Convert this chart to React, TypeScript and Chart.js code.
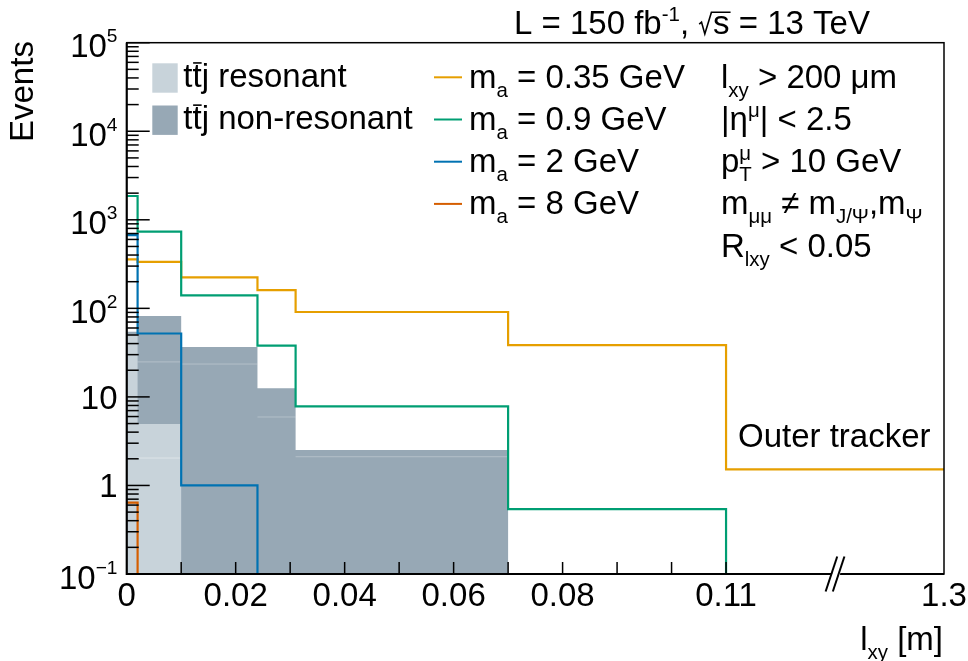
import React, { useEffect, useRef } from "react";
import { Chart, registerables } from "chart.js";

Chart.register(...registerables);

// ---------------- data ----------------
const BIN_EDGES = [0, 0.002, 0.01, 0.024, 0.031, 0.07, 0.11, 1.3];
const TTJ_RESONANT = [50, 4.94, 0, 0, 0, 0, 0];
const TTJ_NON_RESONANT = [4.5, 77, 36.6, 12.5, 2.51, 0, 0];
// inner boundaries of the stacked sub-samples (faint lines inside the fills)
const TTJ_RESONANT_PART = [0, 2.04, 0, 0, 0, 0, 0];
const TTJ_NON_RESONANT_PART = [0, 19.9, 23.5, 5.93, 2.11, 0, 0];
const MA_035 = [358, 334, 224, 161, 91, 38.5, 1.52];
const MA_09 = [1858, 734, 140, 37.9, 7.83, 0.54, 0];
const MA_2 = [673, 52, 1.0, 0, 0, 0, 0];
const MA_8 = [0.64, 0, 0, 0, 0, 0, 0];

const X_LABELED_TICKS = [0, 0.02, 0.04, 0.06, 0.08, 0.11, 1.3];
const X_TICKS = [0.01, 0.02, 0.03, 0.04, 0.05, 0.06, 0.07, 0.08, 0.09, 0.1, 0.11];
const Y_DECADES = [-1, 0, 1, 2, 3, 4, 5];

const LEGEND_FILLS = ["t#bar{t}j resonant", "t#bar{t}j non-resonant"];
const LEGEND_LINES = ["m_{a} = 0.35 GeV", "m_{a} = 0.9 GeV", "m_{a} = 2 GeV", "m_{a} = 8 GeV"];
const CUTS = [
  "l_{xy} > 200 μm",
  "|η^{μ}| < 2.5",
  "p_{T}^{μ} > 10 GeV",
  "m_{μμ} ≠ m_{J/Ψ},m_{Ψ}",
  "R_{lxy} < 0.05",
];
const HEADER = "L = 150 fb^{-1}, #sqrt{s} = 13 TeV";
const REGION = "Outer tracker";
const X_TITLE = "l_{xy} [m]";
const Y_TITLE = "Events";

// ---------------- style ----------------
const C_RES = "#c8d3da";
const C_NONRES = "#97a8b5";
const C_035 = "#e69f00";
const C_09 = "#009e73";
const C_2 = "#0072b2";
const C_8 = "#d55e00";
const FONT = '"Liberation Sans", Arial, Helvetica, sans-serif';
const FS = 33;

// broken x axis: linear up to 0.11, last bin compressed
const X_BREAK = 0.11;
const X_LAST = 1.3;
const X_AXIS_MAX = 0.15;
const Y_MIN = 0.1;
const Y_MAX = 1e5;
function toAxis(x: number) {
  return x <= X_BREAK ? x : X_BREAK + ((x - X_BREAK) * (X_AXIS_MAX - X_BREAK)) / (X_LAST - X_BREAK);
}

function stepPoints(vals: number[]) {
  const pts = vals.map((v, i) => ({ x: toAxis(BIN_EDGES[i]), y: Math.max(v, Y_MIN) }));
  pts.push({ x: toAxis(BIN_EDGES[BIN_EDGES.length - 1]), y: Math.max(vals[vals.length - 1], Y_MIN) });
  return pts;
}
function sumArr(a: number[], b: number[]) {
  return a.map((v, i) => v + b[i]);
}
function partSegments(part: number[], base: number[]) {
  const pts: any[] = [];
  part.forEach((v, i) => {
    if (v > 0) {
      const y = v + base[i];
      pts.push({ x: toAxis(BIN_EDGES[i]), y }, { x: toAxis(BIN_EDGES[i + 1]), y }, { x: toAxis(BIN_EDGES[i + 1]), y: null });
    }
  });
  return pts;
}

// ---------------- rich text (ROOT-like latex) ----------------
type Seg = { text: string; kind: "n" | "sub" | "sup"; bar?: boolean; sqrt?: boolean };
function parseRich(s: string): Seg[] {
  const segs: Seg[] = [];
  let buf = "";
  let i = 0;
  const flush = () => {
    if (buf) segs.push({ text: buf, kind: "n" });
    buf = "";
  };
  while (i < s.length) {
    const c = s[i];
    if ((c === "_" || c === "^") && s[i + 1] === "{") {
      flush();
      const end = s.indexOf("}", i + 2);
      segs.push({ text: s.slice(i + 2, end), kind: c === "_" ? "sub" : "sup" });
      i = end + 1;
    } else if (s.startsWith("#bar{", i)) {
      flush();
      const end = s.indexOf("}", i + 5);
      segs.push({ text: s.slice(i + 5, end), kind: "n", bar: true });
      i = end + 1;
    } else if (s.startsWith("#sqrt{", i)) {
      flush();
      const end = s.indexOf("}", i + 6);
      segs.push({ text: s.slice(i + 6, end), kind: "n", sqrt: true });
      i = end + 1;
    } else {
      buf += c;
      i++;
    }
  }
  flush();
  return segs;
}

function drawRich(
  ctx: CanvasRenderingContext2D,
  str: string,
  x: number,
  y: number,
  align: "left" | "right" | "center" = "left",
  size = FS,
  opts: { scale?: number; supDy?: number; subDy?: number } = {}
) {
  const scale = opts.scale ?? 0.62;
  const supDy = opts.supDy ?? -0.38 * size;
  const subDy = opts.subDy ?? 0.27 * size;
  const small = size * scale;
  const segs = parseRich(str);
  const items: any[] = [];
  let cx = 0;
  let prev: any = null;
  for (const s of segs) {
    const isScript = s.kind !== "n";
    const fs = isScript ? small : size;
    ctx.font = `${fs}px ${FONT}`;
    const w = ctx.measureText(s.text).width;
    let sx = cx;
    const rw = s.sqrt ? 0.45 * size : 0;
    if (isScript && prev && prev.kind !== s.kind) {
      sx = prev.start;
      cx = prev.start + Math.max(prev.w, w);
      prev = null;
    } else {
      cx = sx + rw + w;
      prev = isScript ? { kind: s.kind, start: sx, w } : null;
    }
    const dy = s.kind === "sub" ? subDy : s.kind === "sup" ? supDy : 0;
    items.push({ ...s, sx, rw, w, fs, dy });
  }
  const total = cx;
  const ox = align === "left" ? x : align === "right" ? x - total : x - total / 2;
  ctx.save();
  ctx.fillStyle = "#000";
  ctx.strokeStyle = "#000";
  ctx.textAlign = "left";
  ctx.textBaseline = "alphabetic";
  for (const it of items) {
    ctx.font = `${it.fs}px ${FONT}`;
    const tx = ox + it.sx + it.rw;
    ctx.fillText(it.text, tx, y + it.dy);
    if (it.bar) {
      ctx.lineWidth = 1.6;
      ctx.beginPath();
      ctx.moveTo(tx + 0.02 * size, y - 0.72 * size);
      ctx.lineTo(tx + it.w, y - 0.72 * size);
      ctx.stroke();
    }
    if (it.sqrt) {
      const x0 = ox + it.sx;
      ctx.lineWidth = 1.6;
      ctx.beginPath();
      ctx.moveTo(x0 + 0.03 * size, y - 0.3 * size);
      ctx.lineTo(x0 + 0.1 * size, y - 0.36 * size);
      ctx.lineTo(x0 + 0.2 * size, y);
      ctx.lineTo(x0 + 0.4 * size, y - 0.66 * size);
      ctx.lineTo(tx + it.w + 1, y - 0.66 * size);
      ctx.stroke();
    }
  }
  ctx.restore();
  return total;
}

// ---------------- decoration plugin ----------------
const rootStyle = {
  id: "rootStyle",
  afterDatasetsDraw(chart: any) {
    const ctx: CanvasRenderingContext2D = chart.ctx;
    const xs = chart.scales.x;
    const ys = chart.scales.y;
    const a = chart.chartArea;
    ctx.save();
    ctx.strokeStyle = "#000";
    ctx.lineCap = "butt";

    // frame
    ctx.lineWidth = 1.5;
    ctx.strokeRect(a.left, a.top, a.right - a.left, a.bottom - a.top);
    ctx.lineWidth = 2;
    ctx.beginPath();
    ctx.moveTo(a.left, a.top);
    ctx.lineTo(a.left, a.bottom);
    ctx.lineTo(a.right, a.bottom);
    ctx.stroke();

    // y ticks (log)
    ctx.lineWidth = 1.5;
    for (const d of Y_DECADES) {
      for (let m = 1; m <= 9; m++) {
        const v = m * Math.pow(10, d);
        if (v > Y_MAX * 1.0001) break;
        const py = ys.getPixelForValue(v);
        const len = m === 1 ? 23 : 12;
        ctx.beginPath();
        ctx.moveTo(a.left, py);
        ctx.lineTo(a.left + len, py);
        ctx.stroke();
      }
    }
    // x ticks
    for (const t of X_TICKS) {
      const px = xs.getPixelForValue(toAxis(t));
      ctx.beginPath();
      ctx.moveTo(px, a.bottom);
      ctx.lineTo(px, a.bottom - 12);
      ctx.stroke();
    }

    // axis break marks
    const bx = xs.getPixelForValue((toAxis(X_BREAK) + X_AXIS_MAX) / 2);
    const by = a.bottom;
    ctx.fillStyle = "#fff";
    ctx.beginPath();
    ctx.moveTo(bx - 3.6 - 1, by + 3);
    ctx.lineTo(bx + 3.6 + 1, by + 3);
    ctx.lineTo(bx + 3.6 + 2, by - 3);
    ctx.lineTo(bx - 3.6 + 2, by - 3);
    ctx.closePath();
    ctx.fill();
    ctx.lineWidth = 2;
    for (const off of [-3.6, 3.6]) {
      ctx.beginPath();
      ctx.moveTo(bx + off - 5.8, by + 17.5);
      ctx.lineTo(bx + off + 5.8, by - 17.5);
      ctx.stroke();
    }

    // y labels
    for (const d of Y_DECADES) {
      const py = ys.getPixelForValue(Math.pow(10, d));
      if (d === 0 || d === 1) {
        drawRich(ctx, d === 0 ? "1" : "10", 117.5, py + 11.8, "right");
      } else {
        drawRich(ctx, `10^{${d < 0 ? "−" + -d : d}}`, 117.5, py + 14.5, "right", FS, { scale: 0.58, supDy: -15 });
      }
    }
    // x labels
    for (const v of X_LABELED_TICKS) {
      const px = xs.getPixelForValue(toAxis(v));
      drawRich(ctx, String(v), px, 606, "center");
    }

    // axis titles
    drawRich(ctx, X_TITLE, 943, 650, "right");
    ctx.save();
    ctx.translate(33, 142);
    ctx.rotate(-Math.PI / 2);
    drawRich(ctx, Y_TITLE, 0, 0, "left");
    ctx.restore();

    // header
    drawRich(ctx, HEADER, 514, 34, "left");

    // fill legend
    const fillColors = [C_RES, C_NONRES];
    LEGEND_FILLS.forEach((lab, i) => {
      const cy = 78 + i * 42.2;
      ctx.fillStyle = fillColors[i];
      ctx.fillRect(152.3, cy - 14.7, 25.4, 29.4);
      drawRich(ctx, lab, 183.3, cy + 8.7, "left");
    });

    // line legend
    const lineColors = [C_035, C_09, C_2, C_8];
    LEGEND_LINES.forEach((lab, i) => {
      const cy = 77.3 + i * 42.2;
      ctx.strokeStyle = lineColors[i];
      ctx.lineWidth = 2;
      ctx.beginPath();
      ctx.moveTo(434, cy);
      ctx.lineTo(462, cy);
      ctx.stroke();
      drawRich(ctx, lab, 469, cy + 10.5, "left");
    });

    // selection cuts
    CUTS.forEach((lab, i) => {
      const cy = 77.3 + i * 42.2;
      drawRich(ctx, lab, 721, cy + 10.5, "left");
    });

    // region label
    drawRich(ctx, REGION, 738, 446.7, "left");

    ctx.restore();
  },
};

export default function App() {
  const ref = useRef<HTMLCanvasElement | null>(null);
  useEffect(() => {
    document.body.style.margin = "0";
    const canvas = ref.current;
    if (!canvas) return;
    const resStack = TTJ_RESONANT;
    const totalStack = sumArr(TTJ_RESONANT, TTJ_NON_RESONANT);
    const line = (label: string, vals: number[], color: string, order: number) => ({
      label,
      data: stepPoints(vals),
      borderColor: color,
      backgroundColor: color,
      borderWidth: 2.2,
      stepped: "before" as const,
      fill: false,
      pointRadius: 0,
      order,
      borderCapStyle: "butt" as const,
      borderJoinStyle: "miter" as const,
    });
    const chart = new Chart(canvas, {
      type: "line",
      data: {
        datasets: [
          line(LEGEND_LINES[3], MA_8, C_8, 1),
          line(LEGEND_LINES[2], MA_2, C_2, 2),
          line(LEGEND_LINES[1], MA_09, C_09, 3),
          line(LEGEND_LINES[0], MA_035, C_035, 4),
          {
            label: "nonres part",
            data: partSegments(TTJ_NON_RESONANT_PART, resStack),
            borderColor: "rgba(255,255,255,0.28)",
            borderWidth: 1,
            fill: false,
            pointRadius: 0,
            order: 7,
          },
          {
            label: "res part",
            data: partSegments(TTJ_RESONANT_PART, resStack.map(() => 0)),
            borderColor: "rgba(255,255,255,0.4)",
            borderWidth: 1,
            fill: false,
            pointRadius: 0,
            order: 8,
          },
          {
            label: LEGEND_FILLS[0],
            data: stepPoints(resStack),
            borderWidth: 0,
            borderColor: C_RES,
            backgroundColor: C_RES,
            stepped: "before" as const,
            fill: "start",
            pointRadius: 0,
            order: 9,
          },
          {
            label: LEGEND_FILLS[1],
            data: stepPoints(totalStack),
            borderWidth: 0,
            borderColor: C_NONRES,
            backgroundColor: C_NONRES,
            stepped: "before" as const,
            fill: "start",
            pointRadius: 0,
            order: 10,
          },
        ] as any,
      },
      options: {
        responsive: false,
        animation: false,
        devicePixelRatio: 1,
        layout: { padding: { left: 126.7, right: 24, top: 42.7, bottom: 87 } },
        scales: {
          x: { type: "linear", min: 0, max: X_AXIS_MAX, display: false },
          y: { type: "logarithmic", min: Y_MIN, max: Y_MAX, display: false },
        },
        plugins: { legend: { display: false }, tooltip: { enabled: false } },
        elements: { point: { radius: 0 }, line: { tension: 0 } },
      } as any,
      plugins: [rootStyle],
    });
    return () => chart.destroy();
  }, []);
  return (
    <div style={{ width: 968, height: 661, background: "#fff" }}>
      <canvas ref={ref} width={968} height={661} style={{ display: "block", width: 968, height: 661 }} />
    </div>
  );
}
